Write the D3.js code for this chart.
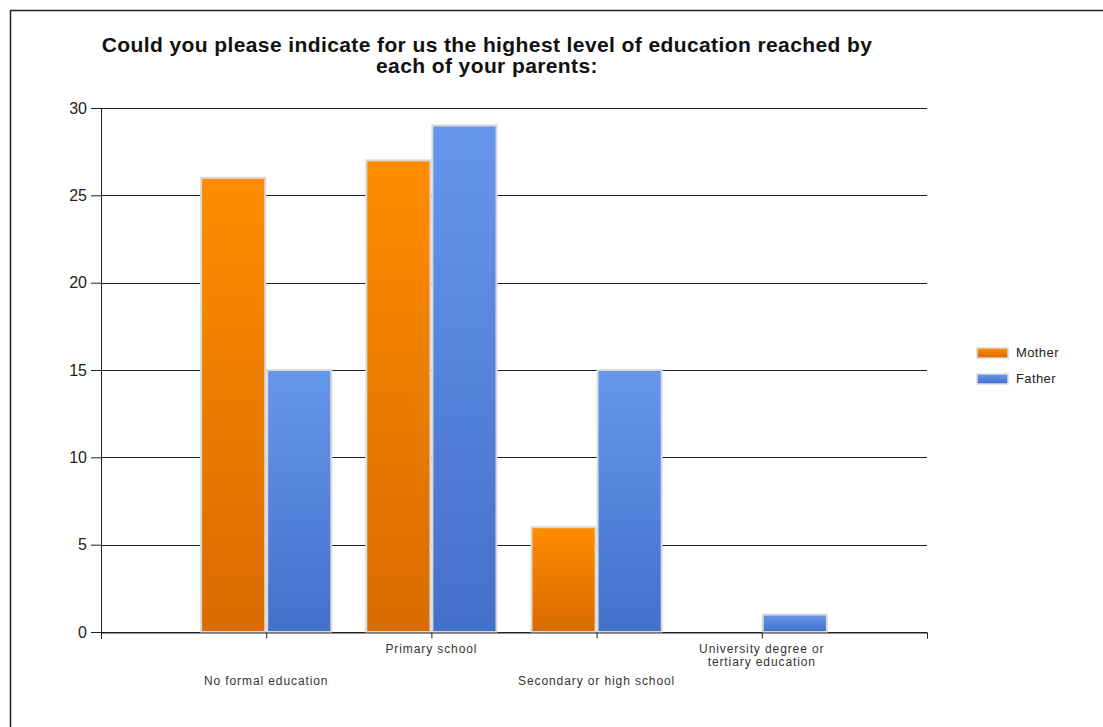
<!DOCTYPE html>
<html>
<head>
<meta charset="utf-8">
<script src="https://cdn.jsdelivr.net/npm/d3@7"></script>
<style>
  html, body { margin: 0; padding: 0; background: #fff; }
  svg { display: block; font-family: Arial, "Liberation Sans", sans-serif; }
</style>
</head>
<body>
<script>
// Survey: highest education level reached by each parent
const categories = ["No formal education", "Primary school", "Secondary or high school", "University degree or tertiary education"];
const categoryLines = [["No formal education"], ["Primary school"], ["Secondary or high school"], ["University degree or", "tertiary education"]];
const seriesNames = ["Mother", "Father"];
const motherValues = [26, 27, 6, 0];
const fatherValues = [15, 29, 15, 1];
const yTicks = [0, 5, 10, 15, 20, 25, 30];
const titleLines = ["Could you please indicate for us the highest level of education reached by", "each of your parents:"];

const W = 1103, H = 727;
const plot = { left: 101, right: 927, top: 108, bottom: 632 };

const svg = d3.select("body").append("svg").attr("width", W).attr("height", H);

// gradients for the two series
const defs = svg.append("defs");
const grads = [
  { id: "gMother", top: "#ff8c00", bottom: "#d96b00" },
  { id: "gFather", top: "#6797ec", bottom: "#4370c9" }
];
grads.forEach(g => {
  const lg = defs.append("linearGradient").attr("id", g.id).attr("x1", 0).attr("y1", 0).attr("x2", 0).attr("y2", 1);
  lg.append("stop").attr("offset", "0%").attr("stop-color", g.top);
  lg.append("stop").attr("offset", "100%").attr("stop-color", g.bottom);
});

// outer frame (top and left edges)
svg.append("path").attr("d", `M10.5,${H} V10.5 H${W}`).attr("fill", "none").attr("stroke", "#222").attr("stroke-width", 1.5);

// title
svg.append("g").selectAll("text").data(titleLines).join("text")
  .attr("x", 487).attr("y", (d, i) => 52 + i * 21)
  .attr("text-anchor", "middle").attr("font-size", 21).attr("font-weight", "bold")
  .attr("letter-spacing", 0.4).attr("fill", "#111")
  .text(d => d);

const y = d3.scaleLinear().domain([0, 30]).range([plot.bottom, plot.top]);
// category positions sit on integer steps of a 0..5 scale
const x = d3.scaleLinear().domain([0, 5]).range([plot.left, plot.right]);
const unit = x(1) - x(0);
const barW = unit * 0.4;

// horizontal gridlines + left ticks
const yAxis = d3.axisLeft(y).tickValues(yTicks).tickSize(10).tickPadding(4);
const yg = svg.append("g").attr("transform", `translate(${plot.left},0)`).call(yAxis);
yg.select(".domain").remove();
yg.selectAll(".tick line").attr("stroke", "#222");
yg.selectAll(".tick text").attr("font-size", 16).attr("fill", "#222").attr("font-family", "Arial, 'Liberation Sans', sans-serif");

svg.append("g").selectAll("line").data(yTicks).join("line")
  .attr("x1", plot.left).attr("x2", plot.right)
  .attr("y1", d => Math.round(y(d)) + 0.5).attr("y2", d => Math.round(y(d)) + 0.5)
  .attr("stroke", "#222").attr("stroke-width", 1);

// bars
const seriesData = [motherValues, fatherValues];
const fills = ["url(#gMother)", "url(#gFather)"];
seriesData.forEach((vals, s) => {
  svg.append("g").selectAll("rect").data(vals).join("rect")
    .attr("x", (d, i) => x(i + 1) - barW + s * barW + 1)
    .attr("width", barW - 2)
    .attr("y", d => y(d))
    .attr("height", d => y(0) - y(d))
    .attr("fill", fills[s])
    .attr("stroke", "#d9d9d9").attr("stroke-width", 2);
});

// left axis line
svg.append("line").attr("x1", plot.left + 0.5).attr("x2", plot.left + 0.5)
  .attr("y1", plot.top).attr("y2", plot.bottom + 7).attr("stroke", "#222");

// bottom axis with ticks at category positions and at the right end
const xAxis = d3.axisBottom(x).tickValues([1, 2, 3, 4, 5]).tickSize(6).tickFormat("");
const xg = svg.append("g").attr("transform", `translate(0,${plot.bottom + 0.5})`).call(xAxis);
xg.select(".domain").attr("stroke", "#222");
xg.selectAll(".tick line").attr("stroke", "#222");

// staggered category labels
const lg = svg.append("g");
categoryLines.forEach((lines, i) => {
  const baseY = i % 2 === 1 ? 653 : 685;
  lg.append("text")
    .attr("x", x(i + 1)).attr("y", baseY)
    .attr("text-anchor", "middle").attr("font-size", 12).attr("letter-spacing", 0.9).attr("fill", "#333")
    .selectAll("tspan").data(lines).join("tspan")
    .attr("x", x(i + 1)).attr("dy", (d, j) => j === 0 ? 0 : 13)
    .text(d => d);
});

// legend
const leg = svg.append("g");
seriesNames.forEach((name, i) => {
  const ly = 348 + i * 26;
  leg.append("rect").attr("x", 977).attr("y", ly).attr("width", 31).attr("height", 10)
    .attr("fill", fills[i]).attr("stroke", "#d9d9d9").attr("stroke-width", 1.5);
  leg.append("text").attr("x", 1016).attr("y", ly + 9).attr("font-size", 13).attr("letter-spacing", 0.4)
    .attr("fill", "#222").text(name);
});
</script>
</body>
</html>
